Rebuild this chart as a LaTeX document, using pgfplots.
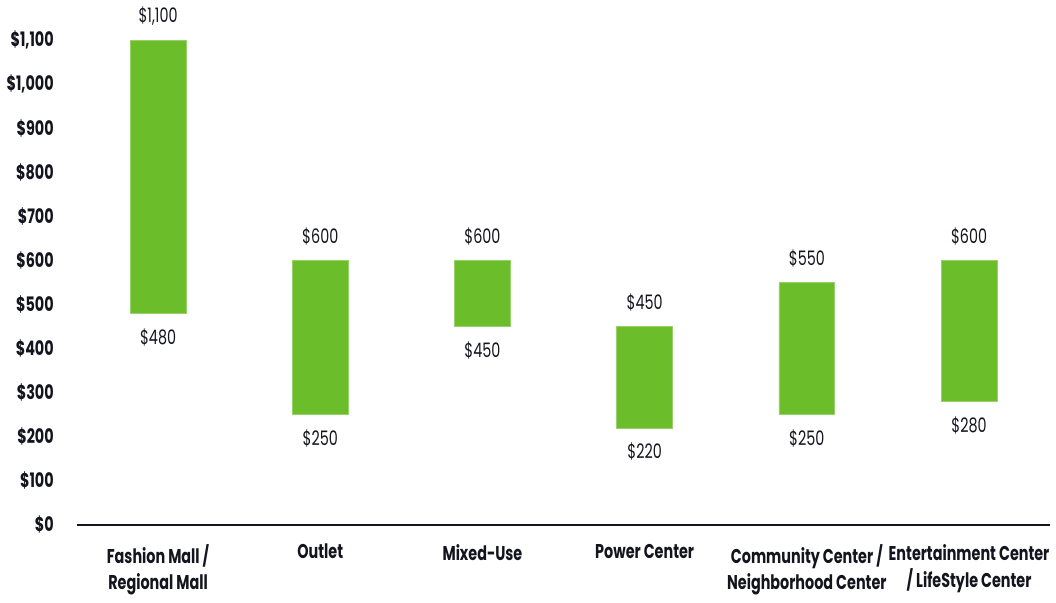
\documentclass[border=0pt]{standalone}
\usepackage{fontspec}
\setmainfont{Poppins}[FakeStretch=0.72]
\usepackage{pgfplots}
\pgfplotsset{compat=1.18}
\definecolor{bargreen}{RGB}{108,189,42}
\definecolor{txt}{RGB}{20,20,30}
\pgfplotsset{common/.style={
  scale only axis,
  width=488pt, height=243pt,
  xmin=-0.5, xmax=5.5,
  ymin=0, ymax=1100,
  clip=false,
}}
\begin{document}
\begin{tikzpicture}
\begin{axis}[
  common,
  ybar stacked,
  bar width=28pt,
  axis x line=bottom,
  axis y line=left,
  axis line style={-},
  y axis line style={draw=none},
  x axis line style={line width=0.9pt, txt},
  ytick={0,100,...,1100},
  yticklabels={\$0,\$100,\$200,\$300,\$400,\$500,\$600,\$700,\$800,\$900,{\$1,000},{\$1,100}},
  yticklabel style={font=\bfseries\fontsize{10}{12}\selectfont, text=txt, xshift=-6pt},
  ytick style={draw=none},
  xtick={0,1,2,3,4,5},
  xticklabels={{Fashion Mall /\\Regional Mall},{Outlet},{Mixed-Use},{Power Center},{Community Center /\\Neighborhood Center},{Entertainment Center\\/ LifeStyle Center}},
  xticklabel style={font=\bfseries\fontsize{10}{13.5}\selectfont, text=txt, align=center, anchor=north, yshift=-4pt},
  xtick style={draw=none},
]
\addplot[draw=none, fill=none] coordinates {
  (0,480) (1,250) (2,450) (3,220) (4,250) (5,280)
};
\addplot[draw=bargreen!70!white, fill=bargreen, line width=0.4pt] coordinates {
  (0,620) (1,350) (2,150) (3,230) (4,300) (5,320)
};
\end{axis}
\begin{axis}[
  common,
  hide axis,
  nodes near coords,
  point meta=explicit symbolic,
  every node near coord/.append style={font=\fontsize{10}{12}\selectfont, text=txt},
]
\addplot[only marks, mark=none, every node near coord/.append style={anchor=north, yshift=-4pt}] coordinates {
  (0,480) [\$480]
  (1,250) [\$250]
  (2,450) [\$450]
  (3,220) [\$220]
  (4,250) [\$250]
  (5,280) [\$280]
};
\addplot[only marks, mark=none, every node near coord/.append style={anchor=south, yshift=4pt}] coordinates {
  (0,1100) [{\$1,100}]
  (1,600) [\$600]
  (2,600) [\$600]
  (3,450) [\$450]
  (4,550) [\$550]
  (5,600) [\$600]
};
\end{axis}
\end{tikzpicture}
\end{document}
